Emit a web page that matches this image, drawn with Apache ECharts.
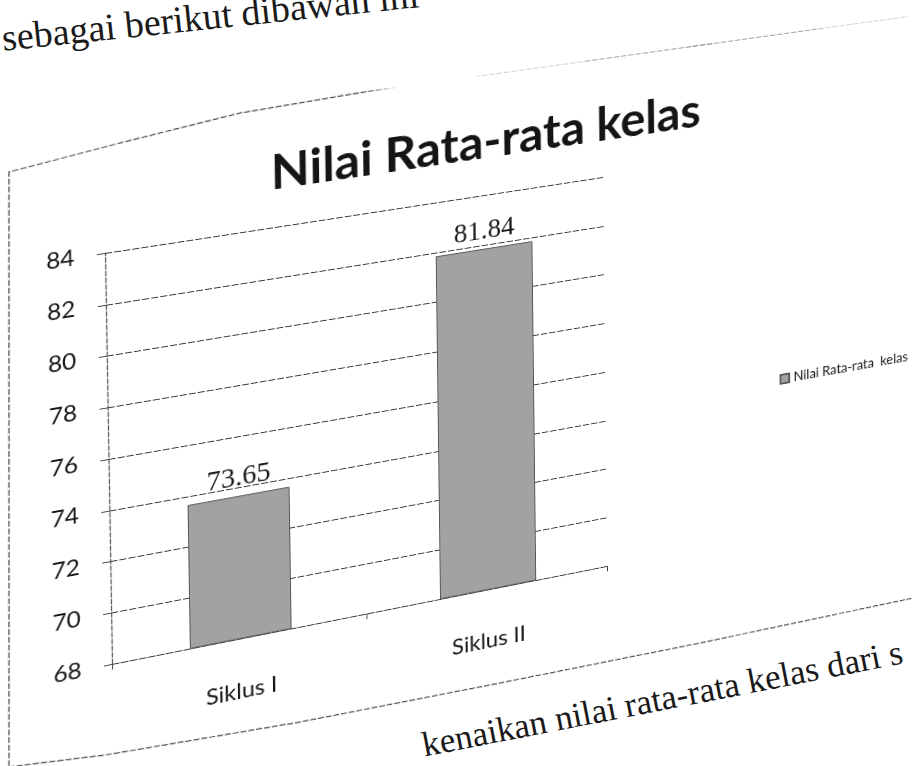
<!DOCTYPE html>
<html><head><meta charset="utf-8">
<script src="https://cdn.jsdelivr.net/npm/echarts@6/dist/echarts.min.js"></script>
<style>
html,body{margin:0;padding:0;width:913px;height:766px;overflow:hidden;background:#fff;}
#chart{position:absolute;left:0;top:0;width:1000px;height:720px;transform-origin:0 0;}
.page{position:absolute;font-family:"Liberation Serif","DejaVu Serif",serif;color:#1a1a1a;white-space:nowrap;transform-origin:0 0;line-height:1;}
#topText{left:0;top:19px;font-size:38px;transform:rotate(-6deg);}
#bottomText{left:419px;top:728px;font-size:35px;transform:rotate(-11deg);}
</style></head><body>
<div id="topText" class="page">sebagai berikut dibawah ini</div>
<div id="bottomText" class="page">kenaikan nilai rata-rata kelas dari s</div>
<div id="chart"></div>
<script>
// ---- data ----
const categories = ['Siklus I', 'Siklus II'];
const seriesName = 'Nilai Rata-rata  kelas';
const values = [73.65, 81.84];
const yTicks = [68, 70, 72, 74, 76, 78, 80, 82, 84];
const titleText = 'Nilai Rata-rata kelas';

// ---- perspective of the scanned page ----
const W = 1000, H = 720;
const G = {left: 130, top: 130, width: 520, height: 430};
const src = [[G.left, G.top], [G.left + G.width, G.top], [G.left, G.top + G.height], [G.left + G.width, G.top + G.height]];
const dst = [[105, 253], [603, 177], [112, 664], [607, 566]];

function solveH(s, d) {
  const A = [], B = [];
  for (let i = 0; i < 4; i++) {
    const [x, y] = s[i], [u, v] = d[i];
    A.push([x, y, 1, 0, 0, 0, -x * u, -y * u]); B.push(u);
    A.push([0, 0, 0, x, y, 1, -x * v, -y * v]); B.push(v);
  }
  const n = 8;
  for (let c = 0; c < n; c++) {
    let p = c;
    for (let r = c + 1; r < n; r++) if (Math.abs(A[r][c]) > Math.abs(A[p][c])) p = r;
    [A[c], A[p]] = [A[p], A[c]]; [B[c], B[p]] = [B[p], B[c]];
    for (let r = 0; r < n; r++) {
      if (r === c) continue;
      const f = A[r][c] / A[c][c];
      for (let k = c; k < n; k++) A[r][k] -= f * A[c][k];
      B[r] -= f * B[c];
    }
  }
  return B.map((b, i) => b / A[i][i]);
}
const [a, b, c, d, e, f, g, h] = solveH(src, dst);
function inv(u, v) {
  const a1 = a - g * u, b1 = b - h * u, c1 = u - c;
  const a2 = d - g * v, b2 = e - h * v, c2 = v - f;
  const det = a1 * b2 - a2 * b1;
  return [(c1 * b2 - c2 * b1) / det, (a1 * c2 - a2 * c1) / det];
}
const el = document.getElementById('chart');
el.style.transform = `matrix3d(${a},${d},0,${g},${b},${e},0,${h},0,0,1,0,${c},${f},0,1)`;

const titleP = inv(491, 142);
const legP = inv(784, 380);
// outline of the (curved) chart frame on the page
const frameTop = [[9, 766], [9, 172], [120, 143], [240, 113], [400, 86], [517, 70], [700, 45], [913, 15]].map(p => inv(p[0], p[1]));
const frameBottom = [[0, 768], [105, 755], [300, 722], [500, 683], [700, 643], [913, 598]].map(p => inv(p[0], p[1]));

const chart = echarts.init(el, null, {renderer: 'canvas', width: W, height: H});
const font = 'Lato, "Open Sans", sans-serif';
const frameStyle = {fill: 'none', stroke: '#444', lineWidth: 1.2, lineDash: [6, 2]};
chart.setOption({
  backgroundColor: 'transparent',
  animation: false,
  title: {
    text: titleText, left: titleP[0], top: titleP[1], padding: 0,
    textAlign: 'center', textVerticalAlign: 'middle',
    textStyle: {fontFamily: font, fontSize: 52, fontWeight: 'bold', color: '#151515'}
  },
  legend: {
    data: [seriesName], orient: 'vertical', left: legP[0] - 5, top: legP[1] - 9, padding: 0,
    icon: 'rect', itemWidth: 10, itemHeight: 10, itemGap: 4,
    textStyle: {fontFamily: font, fontSize: 15, color: '#1a1a1a'}
  },
  grid: {left: G.left, top: G.top, width: G.width, height: G.height, containLabel: false},
  xAxis: {
    type: 'category', data: categories,
    axisLine: {show: true, lineStyle: {color: '#333', width: 1.2, type: [7, 2]}},
    axisTick: {show: true, length: 6, lineStyle: {color: '#444'}},
    axisLabel: {fontFamily: font, fontSize: 24, color: '#151515', margin: 44}
  },
  yAxis: {
    type: 'value', min: yTicks[0], max: yTicks[yTicks.length - 1], interval: yTicks[1] - yTicks[0],
    axisLine: {show: true, lineStyle: {color: '#555', width: 1.2, type: [5, 2]}},
    axisTick: {show: true, length: 8, lineStyle: {color: '#444'}},
    axisLabel: {fontFamily: font, fontSize: 24, color: '#151515', margin: 30},
    splitLine: {show: true, lineStyle: {color: '#333', width: 1.2, type: [7, 2]}}
  },
  graphic: [
    {type: 'polyline', silent: true, z: -1, shape: {points: frameTop}, style: frameStyle},
    {type: 'polyline', silent: true, z: -1, shape: {points: frameBottom}, style: frameStyle}
  ],
  series: [{
    name: seriesName, type: 'bar', data: values, barWidth: '40%',
    itemStyle: {color: '#a2a2a2', borderColor: '#555', borderWidth: 1},
    label: {show: true, position: 'top', distance: 4, fontFamily: '"Liberation Serif", serif', fontSize: 29, color: '#1a1a1a'}
  }]
});
</script>
</body></html>
